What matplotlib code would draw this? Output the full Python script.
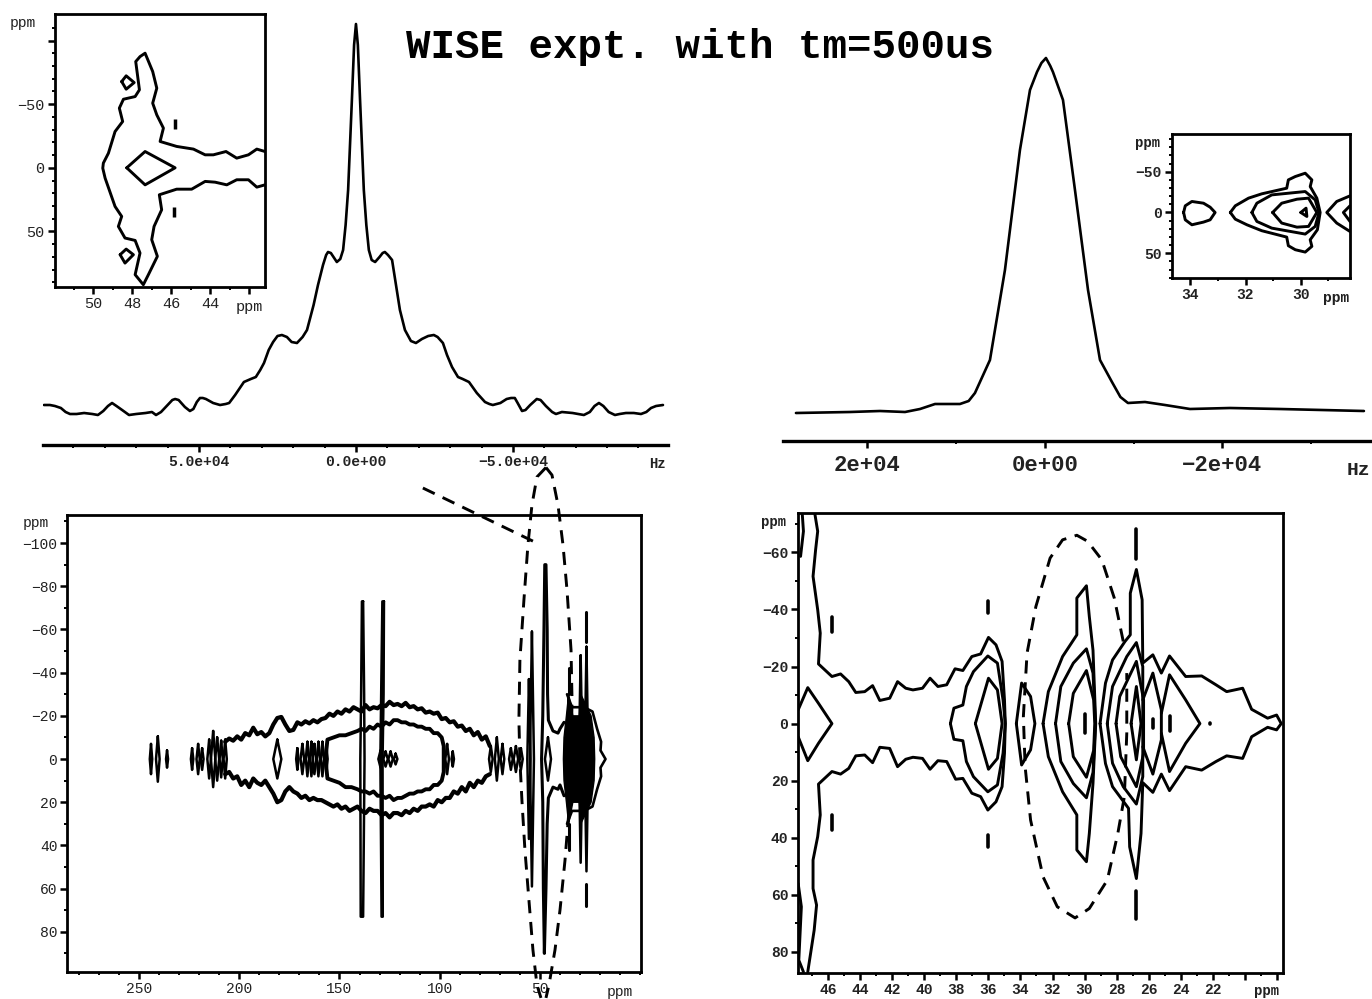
import matplotlib
matplotlib.use('Agg')
import matplotlib.pyplot as plt

W, H = 1372, 999
MONO = 'Liberation Mono'

# top spectra: kHz and intensity (height above axis)
left_khz = [99.4, 97.5, 95.9, 94, 92.5, 91.1, 89, 86.6, 84, 82.2, 80.5, 79, 77.7, 76.3, 74.5, 72.3, 70, 67, 65, 63.7, 62.1,
            60, 58.5, 57.6, 56.5, 54.5, 52.9, 51.8, 50.7, 49.7, 48.8, 47.8, 45.5, 43.3, 41.5, 40.4, 38.5, 35.7, 33.5, 31.9,
            30.5, 29.3, 27.8, 26.4, 25, 23.6, 22, 20.5, 18.8, 17, 15.6, 13.5, 12.1, 10.5, 9.5, 8.9, 8, 6.1, 5, 4.1, 3.3, 2.5,
            1.3, 0.6, 0, -0.6, -1.3, -2.5, -3.3, -4.1, -5, -6.1, -7.5, -8.5, -9.2, -10.2, -11.5, -13, -14, -15.6, -17.5,
            -19.1, -21, -23, -24.8, -26, -27.7, -29, -30.6, -32.5, -34, -36, -38.5, -41.1, -42.5, -43.6, -46, -48, -49.4,
            -50.6, -51.5, -52.9, -54, -55.5, -57.6, -58.8, -60.5, -62.5, -63.7, -65.6, -69, -72.6, -74.5, -76, -77.4, -78.8,
            -80.5, -82.5, -84, -86, -88.5, -90.8, -92.5, -94, -95.6, -97.8]
left_int = [40, 40, 39, 37, 33, 31, 31, 32, 31, 30, 34, 39, 42, 39, 35, 30, 31, 32, 33, 30, 33,
            40, 45, 46, 45, 38, 34, 36, 43, 47, 47, 46, 42, 40, 41, 42, 50, 63, 66, 68,
            75, 82, 95, 103, 109, 110, 108, 103, 102, 108, 115, 140, 160, 180, 190, 193, 192, 183, 186, 195, 220, 255,
            345, 400, 421, 400, 345, 255, 220, 195, 185, 183, 188, 192, 193, 190, 185, 155, 135, 115, 104,
            102, 106, 109, 110, 108, 102, 90, 78, 68, 66, 63, 52, 43, 41, 40, 42, 46, 47,
            47, 42, 34, 35, 40, 46, 45, 39, 33, 31, 33, 32, 30, 33, 39, 42, 39,
            33, 30, 31, 32, 32, 31, 33, 37, 39, 40]

right_khz = [28.06, 21.97, 18.59, 15.77, 14.08, 12.39, 9.58, 8.6, 7.89, 6.20, 4.51, 2.82, 1.69, 0.90, 0.4, -0.11, -0.6, -0.90,
             -2.03, -3.38, -4.85, -6.20, -7.55, -8.5, -9.35, -11.27, -13.52, -16.34, -20.85, -26.48, -35.94]
right_int = [28, 29, 30, 29, 32, 37, 37, 40, 48, 81, 171, 291, 351, 369, 378, 383, 375, 369,
             341, 251, 151, 81, 59, 44, 38, 39, 36, 32, 33, 32, 30]

# inset top left
a_outer_x = [41.20, 41.62, 42.05, 42.65, 43.20, 43.85, 44.27, 44.87, 45.73, 46.58, 46.41, 46.75, 46.96, 46.75, 46.96,
             47.35, 47.61, 47.83, 47.74, 47.64, 47.86, 48.46, 48.67, 48.50, 48.89, 49.23, 49.49, 49.52,
             49.40, 48.89, 48.55, 48.72, 48.38, 47.86, 47.61, 47.86, 47.44, 47.18, 46.72, 47.01, 46.89, 46.50, 46.62,
             45.73, 44.96, 44.27, 43.76, 43.16, 42.65, 42.05, 41.62, 41.20]
a_outer_y = [-12.8, -14.7, -10.2, -7.6, -12.8, -10.2, -10.2, -14.7, -16.8, -20.7, -31.2, -41.6, -50.8, -62.6, -75.7,
             -90.1, -87.4, -83.5, -73.0, -61.3, -56.0, -53.9, -46.9, -36.4, -28.5, -11.5, -3.7, 0.3,
             8.1, 30.4, 38.2, 46.1, 55.2, 57.1, 67.0, 84.0, 91.9, 84.0, 69.6, 56.5, 46.1, 33.0, 21.2,
             16.8, 16.8, 10.7, 11.3, 13.4, 9.4, 9.4, 15.2, 13.4]
a_diamond_x = [48.29, 47.35, 45.81, 47.35, 48.29]
a_diamond_y = [0, -12.8, 0, 13.4, 0]
a_up_x = [48.55, 48.32, 47.91, 48.32, 48.55]
a_up_y = [-67.8, -72.3, -67.0, -61.8, -67.8]
a_low_x = [48.63, 48.32, 47.95, 48.38, 48.63]
a_low_y = [68.3, 63.9, 68.3, 74.9, 68.3]
a_speck_x = [45.81, 45.86]
a_speck_y = [-34.6, 35.1]

# inset top right
e_lens_x = [34.24, 34.18, 33.94, 33.52, 33.28, 33.10, 33.28, 33.52, 33.94, 34.18, 34.24]
e_lens_y = [0, -8.2, -13.5, -11.4, -6.5, 0, 9.0, 11.8, 15.1, 9.0, 0]
e_outer_x = [32.55, 32.37, 31.89, 31.41, 30.51, 30.45, 30.20, 29.84, 29.60, 29.66, 29.42, 29.30, 29.40, 29.66, 29.60,
             29.84, 30.20, 30.45, 30.51, 31.41, 31.95, 32.37, 32.55]
e_outer_y = [0, -8.2, -17.6, -22.9, -29.8, -40.0, -44.1, -48.2, -40.0, -31.8, -17.6, 0, 21.2, 33.5, 41.6,
             48.6, 45.7, 40.8, 30.2, 22.4, 15.1, 8.2, 0]
e_mid_x = [31.77, 31.59, 31.05, 29.84, 29.48, 29.34, 29.48, 29.84, 31.05, 31.59, 31.77]
e_mid_y = [0, -11.4, -21.6, -25.7, -15.5, 0, 17.1, 26.5, 19.2, 11.0, 0]
e_in_x = [31.02, 30.69, 30.14, 29.72, 29.42, 29.72, 30.14, 30.69, 31.02]
e_in_y = [0, -11.4, -16.3, -17.6, 0, 17.1, 18.0, 13.0, 0]
e_tri_x = [30.00, 29.81, 29.78, 30.00]
e_tri_y = [0, -5.3, 4.9, 0]
e_r1_x = [28.22, 28.70, 29.06, 28.70, 28.22]
e_r1_y = [-20.4, -13.5, 0, 13.0, 23.3]
e_r2_x = [28.22, 28.46, 28.22]
e_r2_y = [-8.2, 0, 11.0]

# bottom left, full spectrum
c_outer_up_x = [207, 205, 203, 201, 199, 197, 195, 193, 191, 189, 187, 185, 183, 181, 179, 177, 175, 173, 171, 169, 167,
                165, 163, 161, 159, 157, 155, 153, 151, 149, 147, 145, 143, 141, 139, 137, 135, 133, 131, 129, 127, 125,
                123, 121, 119, 117, 115, 113, 111, 109, 107, 105, 103, 101, 99, 97, 95, 93, 91, 89, 87, 85, 83, 81, 79,
                77, 75]
c_outer_up_y = [-8, -9.5, -8.5, -10.5, -9, -12, -11, -14.5, -11.5, -12.5, -10.5, -12, -16, -19, -19.5, -16, -13, -13.5,
                -17, -16, -17.5, -16.5, -18, -17, -18.5, -19, -21, -20, -22, -21, -23, -22, -24, -23, -22, -25, -23, -24,
                -23.5, -25, -24.5, -26.5, -25, -25.5, -24.5, -26, -24, -24.5, -23, -23.5, -21.5, -22, -21, -21.5, -18.5,
                -19, -17, -17.5, -15, -15.5, -13, -14, -11, -12.5, -9, -10.5, -6]
c_outer_low_x = [207, 205, 203, 201, 199, 197, 195, 193, 191, 189, 187, 185, 183, 181, 179, 177, 175, 173, 171, 169, 167,
                 165, 163, 161, 159, 157, 155, 153, 151, 149, 147, 145, 143, 141, 139, 137, 135, 133, 131, 129, 127, 125,
                 123, 121, 119, 117, 115, 113, 111, 109, 107, 105, 103, 101, 99, 97, 95, 93, 91, 89, 87, 85, 83, 81, 79,
                 77, 75]
c_outer_low_y = [7, 6, 9, 8, 12, 10, 13, 9, 11, 12, 10, 13, 16, 20, 19, 15, 13, 15, 16, 18, 17, 19, 18, 19, 19, 20, 21,
                 22, 21, 23, 22, 24, 23, 22, 24, 25, 23, 24, 24, 26, 25, 27, 25, 25, 26, 24, 25, 23, 24, 22, 22, 21, 22,
                 19, 20, 18, 18, 15, 16, 13, 15, 11, 13, 10, 11, 8, 7]
c_inner_x = [157, 156, 153, 150, 147, 144, 141, 139, 137, 135, 133, 131, 129, 127, 125, 123, 121, 119, 117, 115, 113, 111,
             109, 107, 105, 103, 101, 99, 98, 98, 99, 101, 103, 105, 107, 109, 111, 113, 115, 117, 119, 121, 123, 125,
             127, 129, 131, 133, 135, 137, 139, 141, 144, 147, 150, 153, 156, 157]
c_inner_y = [0, -9, -10, -11, -11, -12, -13, -14, -13, -15, -14, -16, -15, -17, -16, -18, -18, -17, -17, -16, -16, -15,
             -15, -14, -14, -12, -12, -10, -6, 6, 10, 12, 12, 14, 14, 15, 15, 16, 16, 17, 18, 18, 19, 17, 18, 17, 17, 15, 16,
             15, 15, 14, 13, 13, 11, 10, 9, 0]
c_col1_x = [138.2, 137.7, 137.5, 138.2, 139.4, 139.6, 139.2, 138.8, 138.2]
c_col1_y = [-73, -30, 0, 73, 73, 0, -30, -73, -73]
c_col2_x = [127.8, 128.0, 128.5, 128.4, 129.0, 129.6, 129.2, 128.6, 127.8]
c_col2_y = [-73, -30, 0, 73, 73, 0, -30, -73, -73]
c_t_x = [47.0, 46.4, 46.2, 45.8, 43.5, 41.0, 40.0, 38.0]
c_t_y = [-90, -60, -30, -18, -13, -12, -14, -17]
c_t2_x = [47.6, 48.0, 48.6, 49.2, 48.6, 48.3, 47.8, 47.0, 46.4, 45.8, 43.5, 41.0, 40.0, 38.0]
c_t2_y = [-90, -60, -20, 0, 20, 60, 90, 60, 30, 18, 13, 14, 12, 17]
c_blob_x = [38.3, 38.0, 36.8, 35.7, 33.6, 30.3, 29.7, 27.0, 24.5, 23.0, 22.7, 23.0, 24.5, 27.0, 29.7, 30.3, 33.6, 35.7, 36.8, 38.0, 38.3]
c_blob_y = [0, -10, -20, -30, -20, -20, -30, -25, -20, -10, 0, 10, 20, 25, 30, 20, 20, 30, 20, 10, 0]
c_tail_x = [36.5, 34.0, 28.0, 23.8, 21.5, 19.5, 19.8, 17.3, 19.8, 19.5, 21.5, 23.8, 28.0, 34.0, 36.5]
c_tail_y = [-30, -24, -24, -22, -14, -8, -4, 0, 4, 8, 14, 22, 24, 24, 30]
lens_ppm = [244, 240.6, 236, 223.5, 220.5, 218.5, 215, 213, 211, 209, 207, 181, 171, 168.5, 166, 164, 162.5, 160.5, 158.5,
            156.5, 129.5, 127, 124.5, 122, 96.3, 93.5, 74.5, 71.5, 68.7, 64.5, 62, 59.5, 54, 55.5, 46, 35.7, 29.7, 26.8]
lens_half = [7, 10.5, 4, 5, 7, 5, 9, 13, 10, 8.5, 9, 9, 5, 7, 8, 8, 7, 8, 8, 6, 4, 3.5, 3.5, 2.5, 7, 3.5, 6, 10, 7, 5, 6, 5,
             59, 37, 10, 28, 48, 52]
lens_wide = [0.6, 0.9, 0.5, 0.6, 0.8, 0.7, 0.9, 1.1, 1.0, 0.8, 0.8, 2, 0.6, 0.9, 0.8, 0.8, 0.9, 0.8, 0.8, 0.6, 1.1, 1.1, 1.1,
             0.9, 0.9, 0.6, 0.9, 1.0, 0.9, 0.9, 1.1, 0.9, 1.0, 0.8, 1.5, 1.0, 0.9, 0.9]
dash_ppm = [35.7, 35.7, 26.8, 26.8]
dash_lo = [-42, 30, -68, 58]
dash_hi = [-30, 42, -54, 68]

c_ell_x = [47.0, 51.5, 54, 56, 58, 60, 60.5, 60, 59, 57.5, 55.5, 53.5, 51.5, 49.5]
c_ell_y = [-135, -130.6, -117.6, -99.1, -73.6, -45.8, -18, 0.5, 19, 42, 65.3, 88.4, 104.6, 110.6]
c_ell2_x = [47.0, 44, 41, 38.5, 36.5, 34.5, 34, 34.5, 35.5, 37.5, 40, 42.5, 45.5, 47.0]
c_ell2_y = [-135, -131.5, -117.6, -99.1, -78.2, -50.5, -27.3, 0.5, 23.6, 46.8, 69.9, 88.4, 104.6, 110.6]
c_lead_x = [108.4, 53.5]
c_lead_y = [-125.5, -100.9]

# bottom right, expansion
d_t_x = [46.85, 46.67, 46.80, 46.96, 46.67, 46.51, 46.62, 45.78, 45.24, 44.73, 44.29, 43.73, 43.24, 42.79, 42.17, 41.68,
         41.17, 40.72, 40.12, 39.65, 39.16, 38.61, 38.09, 37.60, 37.04, 36.49, 36.00, 35.53, 35.15, 35.00, 34.95, 35.00,
         35.15, 35.53, 36.04, 36.49, 37.04, 37.60, 38.05, 38.61, 39.16, 39.65, 40.12, 40.72, 41.17, 41.68, 42.17, 42.79,
         43.24, 43.73, 44.29, 44.73, 45.24, 45.78, 46.62, 46.51, 46.67, 46.96, 46.96, 46.74, 46.89, 47.29]
d_t_y = [-73.6, -67.4, -60.9, -51.6, -39.9, -31.7, -20.9, -16.5, -17.4, -14.7, -10.9, -11.2, -13.3, -8.1, -8.9, -14.7,
         -12.4, -11.8, -12.4, -15.9, -13.0, -13.6, -19.2, -18.6, -23.5, -24.4, -30.2, -27.6, -21.8, -8.3, 0, 10.4,
         22.1, 27.4, 30.3, 25.6, 24.4, 19.2, 19.5, 13.3, 13.0, 16.0, 12.2, 11.8, 12.5, 15.1, 8.7, 8.3,
         13.7, 11.0, 11.3, 15.7, 17.7, 16.8, 21.2, 32.0, 39.6, 47.8, 57.8, 63.6, 72.4, 87.0]
d_36b_x = [38.38, 38.16, 37.60, 37.38, 36.94, 36.04, 35.44, 35.09, 34.95, 35.09, 35.44, 36.04, 36.94, 37.38, 37.60, 38.16, 38.38]
d_36b_y = [0, -5.4, -6.5, -13.0, -18.2, -23.7, -21.2, -8.3, 0, 10.4, 21.5, 23.9, 18.6, 13.3, 6.0, 5.5, 0]
d_36c_x = [36.82, 36.00, 35.44, 35.15, 35.44, 36.00, 36.82]
d_36c_y = [0, -15.9, -11.8, 0, 12.2, 16.0, 0]
d_dia_x = [47.89, 47.29, 46.62, 45.78, 46.62, 47.29, 47.89]
d_dia_y = [-4.8, -12.6, -7.1, 0, 6.9, 13.0, 4.6]
d_edge1_x = [47.63, 47.56, 47.74]
d_edge1_y = [-73.2, -67.4, -58.6]
d_edge2_x = [47.89, 47.69, 47.85, 47.56]
d_edge2_y = [56.0, 64.2, 82.9, 87.0]
d_34_x = [34.26, 33.93, 33.37, 33.10, 33.37, 33.93, 34.26]
d_34_y = [0, -14.2, -9.5, 0, 9.2, 14.5, 0]
d_30a_x = [32.59, 32.26, 31.37, 30.48, 30.48, 29.88, 29.70, 29.47, 29.30, 29.47, 29.70, 29.88, 30.48, 30.48, 31.37, 32.26, 32.59]
d_30a_y = [0, -11.2, -23.5, -31.1, -44.0, -48.3, -37.5, -25.7, 0, 20.9, 38.5, 48.4, 44.3, 32.0, 23.9, 11.6, 0]
d_30b_x = [31.81, 31.48, 30.70, 29.88, 29.47, 29.32, 29.47, 29.88, 30.70, 31.48, 31.81]
d_30b_y = [0, -13.0, -21.2, -26.2, -17.7, 0, 17.1, 26.0, 21.0, 13.3, 0]
d_30c_x = [30.99, 30.70, 29.88, 29.43, 29.36, 29.43, 29.88, 30.70, 30.99]
d_30c_y = [0, -10.6, -18.6, -8.3, 0, 9.4, 18.8, 11.6, 0]
d_267a_x = [29.03, 28.69, 28.25, 27.47, 27.14, 27.14, 26.76, 26.40, 26.36, 25.73, 25.20, 24.69, 23.68, 22.68, 21.79, 21.12,
            20.12, 19.56, 18.56, 18.00, 17.71, 18.00, 18.56, 19.56, 20.12, 21.12, 21.79, 22.68, 23.68, 24.69, 25.20, 25.73,
            26.36, 26.47, 26.76, 27.18, 27.25, 28.25, 28.69, 29.03]
d_267a_y = [0, -14.2, -22.3, -28.8, -31.1, -45.7, -54.0, -43.4, -21.2, -24.1, -17.7, -23.7, -16.5, -16.7, -13.6, -11.2,
            -12.4, -5.0, -1.9, -3.0, 0, 2.2, 1.3, 4.6, 12.2, 11.3, 13.3, 16.3, 15.1, 23.5, 17.7, 24.1,
            20.7, 38.5, 54.3, 43.2, 29.7, 22.1, 14.0, 0]
d_267b_x = [28.58, 28.25, 27.36, 26.76, 26.36, 26.36, 26.36, 26.76, 27.58, 28.25, 28.58]
d_267b_y = [0, -13.0, -23.5, -28.4, -20.0, 0, 18.6, 28.2, 22.1, 13.9, 0]
d_267c_x = [28.03, 27.80, 26.76, 26.31, 26.31, 26.31, 26.76, 27.74, 28.03]
d_267c_y = [0, -9.5, -21.8, -8.3, 0, 10.4, 22.1, 11.6, 0]
d_267d_x = [27.09, 26.76, 26.47, 26.76, 27.09]
d_267d_y = [0, -13.0, 0, 12.7, 0]
d_257_x = [26.36, 25.73, 25.20, 25.20, 25.20, 25.73, 26.36]
d_257_y = [-8.3, -17.7, -4.8, 0, 5.7, 17.7, 8.1]
d_247_x = [25.20, 24.69, 23.68, 22.79, 23.68, 24.69, 25.20]
d_247_y = [-3.6, -17.1, -8.3, 0, 6.9, 16.8, 3.4]
d_lens_ppm = [45.78, 45.78, 36.0, 36.0, 26.76, 26.76, 29.96, 25.73, 24.69, 22.17]
d_lens_mid = [-34.6, 34.6, -40.8, 41.1, -63.0, 63.5, 0, 0, 0, 0]
d_lens_half = [2.6, 2.6, 2.2, 2.2, 5.2, 5.0, 3.2, 1.7, 2.6, 0.2]
d_ell_x = [27.58, 28.14, 28.92, 29.81, 30.48, 31.37, 32.15, 33.04, 33.59, 33.82, 33.71, 33.37, 32.59, 31.70, 30.59, 29.70,
           28.58, 27.92, 27.51, 27.36, 27.36]
d_ell_y = [-28.8, -44.0, -57.4, -63.9, -66.0, -64.4, -58.0, -41.0, -24.7, -2.5, 15.1, 33.8, 53.7, 64.2, 68.1, 64.8,
           54.9, 38.5, 25.6, 3.4, -17.7]


def panel(l, t, r, b):
    return fig.add_axes([l / W, 1 - b / H, (r - l) / W, (b - t) / H])


def trace(ax, x, y, lw=2.1):
    ax.plot(x, y, color='black', lw=lw, solid_joinstyle='round', solid_capstyle='round')


def ticks(ax, size, weight, xmaj, xlab, xmin, ymaj=None, ylab=None, ymin=None, pad=2.5):
    ax.set_xticks(xmaj)
    ax.set_xticklabels(xlab, fontfamily=MONO, fontsize=size, fontweight=weight, color='#222222')
    ax.set_xticks(xmin, minor=True)
    ax.tick_params(axis='both', which='major', length=5, width=1.8, pad=pad)
    ax.tick_params(axis='both', which='minor', length=2.5, width=1.4)
    if ymaj is not None:
        ax.set_yticks(ymaj)
        ax.set_yticklabels(ylab, fontfamily=MONO, fontsize=size, fontweight=weight, color='#222222')
        ax.set_yticks(ymin, minor=True)
    for s in ax.spines.values():
        s.set_linewidth(2)


def corner(ax, txt, x, y, size, weight='normal'):
    ax.text(x, y, txt, transform=ax.transAxes, fontfamily=MONO, fontsize=size, fontweight=weight,
            color='#222222', ha='center', va='center', clip_on=False)


fig = plt.figure(figsize=(W / 100, H / 100), dpi=100)
fig.text(700 / W, 1 - 47 / H, 'WISE expt. with tm=500us', fontfamily=MONO, fontsize=29.3, fontweight='bold',
         ha='center', va='center')

# top left spectrum
ax = panel(43, 15, 668, 445)
trace(ax, left_khz, left_int, 1.9)
ax.set_xlim(99.7, -99.4)
ax.set_ylim(0, 430)
ticks(ax, 10.5, 'bold', [50, 0, -50], ['5.0e+04', '0.0e+00', '\u22125.0e+04'], list(range(-90, 100, 10)))
ax.set_yticks([])
for s in ['top', 'left', 'right']:
    ax.spines[s].set_visible(False)
ax.spines['bottom'].set_linewidth(2.4)
corner(ax, 'Hz', 0.983, -0.045, 10, 'bold')
ax.patch.set_alpha(0)

# top right spectrum
ax = panel(783, 15, 1372, 441)
trace(ax, right_khz, right_int, 1.9)
ax.set_xlim(29.52, -36.85)
ax.set_ylim(0, 426)
ticks(ax, 16, 'bold', [20, 0, -20], ['2e+04', '0e+00', '\u22122e+04'], [-30, -10, 10], pad=5)
ax.set_yticks([])
for s in ['top', 'left', 'right']:
    ax.spines[s].set_visible(False)
ax.spines['bottom'].set_linewidth(2.4)
corner(ax, 'Hz', 0.977, -0.07, 14, 'bold')
ax.patch.set_alpha(0)

# inset left
ax = panel(55, 14, 265, 287)
trace(ax, a_outer_x, a_outer_y)
trace(ax, a_diamond_x, a_diamond_y)
trace(ax, a_up_x, a_up_y)
trace(ax, a_low_x, a_low_y)
ax.plot(a_speck_x, a_speck_y, ls='none', marker='|', ms=7, mew=2.5, color='black')
ax.set_xlim(51.97, 41.2)
ax.set_ylim(93.7, -120.9)
ticks(ax, 11, 'normal', [50, 48, 46, 44, 42], ['50', '48', '46', '44', ''], [51, 49, 47, 45, 43],
      [-100, -50, 0, 50], ['', '\u221250', '0', '50'], list(range(-110, 100, 10)))
corner(ax, 'ppm', 0.924, -0.073, 11)
corner(ax, 'ppm', -0.152, 0.967, 10.5)

# inset right
ax = panel(1172, 134, 1350, 278)
for x, y in [(e_lens_x, e_lens_y), (e_outer_x, e_outer_y), (e_mid_x, e_mid_y), (e_in_x, e_in_y),
             (e_tri_x, e_tri_y), (e_r1_x, e_r1_y), (e_r2_x, e_r2_y)]:
    trace(ax, x, y)
ax.set_xlim(34.66, 28.22)
ax.set_ylim(80.4, -96.3)
ticks(ax, 10.5, 'bold', [34, 32, 30], ['34', '32', '30'], [33, 31, 29],
      [-50, 0, 50], ['\u221250', '0', '50'], list(range(-90, 90, 10)))
corner(ax, 'ppm', 0.92, -0.14, 10.5, 'bold')
corner(ax, 'ppm', -0.14, 0.94, 10, 'bold')

# full spectrum
ax = panel(67, 515, 641, 972)
trace(ax, c_outer_up_x, c_outer_up_y, 3)
trace(ax, c_outer_low_x, c_outer_low_y, 3)
trace(ax, c_inner_x, c_inner_y, 2.8)
trace(ax, c_col1_x, c_col1_y, 1.8)
trace(ax, c_col2_x, c_col2_y, 1.8)
trace(ax, c_t_x, c_t_y, 2.2)
trace(ax, c_t2_x, c_t2_y, 2.2)
trace(ax, c_tail_x, c_tail_y, 1.9)
ax.fill(c_blob_x, c_blob_y, color='black', lw=1)
for p, h, w in zip(lens_ppm, lens_half, lens_wide):
    trace(ax, [p, p - w, p, p + w, p], [-h, 0, h, 0, -h], 1.8)
for p, lo, hi in zip(dash_ppm, dash_lo, dash_hi):
    trace(ax, [p, p], [lo, hi], 2.2)
ax.plot(c_ell_x, c_ell_y, color='black', lw=2.1, ls=(0, (4.5, 3)), clip_on=False)
ax.plot(c_ell2_x, c_ell2_y, color='black', lw=2.1, ls=(0, (4.5, 3)), clip_on=False)
ax.plot(c_lead_x, c_lead_y, color='black', lw=2.1, ls=(0, (4.5, 3)), clip_on=False)
ax.set_xlim(285.9, -0.4)
ax.set_ylim(98.6, -113)
ticks(ax, 10.5, 'normal', [250, 200, 150, 100, 50], ['250', '200', '150', '100', '50'], list(range(0, 290, 10)),
      list(range(-100, 100, 20)), ['\u2212100', '\u221280', '\u221260', '\u221240', '\u221220', '0', '20', '40', '60', '80'],
      list(range(-110, 100, 10)), pad=2)
corner(ax, 'ppm', 0.963, -0.044, 10.5)
corner(ax, 'ppm', -0.055, 0.983, 10.5)

# expansion
ax = panel(798, 513, 1283, 973)
for x, y in [(d_t_x, d_t_y), (d_36b_x, d_36b_y), (d_36c_x, d_36c_y), (d_dia_x, d_dia_y), (d_edge1_x, d_edge1_y),
             (d_edge2_x, d_edge2_y), (d_34_x, d_34_y), (d_30a_x, d_30a_y), (d_30b_x, d_30b_y), (d_30c_x, d_30c_y),
             (d_267a_x, d_267a_y), (d_267b_x, d_267b_y), (d_267c_x, d_267c_y), (d_267d_x, d_267d_y),
             (d_257_x, d_257_y), (d_247_x, d_247_y)]:
    trace(ax, x, y)
for p, m, h in zip(d_lens_ppm, d_lens_mid, d_lens_half):
    trace(ax, [p, p], [m - h, m + h], 2.6)
ax.plot(d_ell_x, d_ell_y, color='black', lw=2.1, ls=(0, (4.5, 3)))
ax.set_xlim(47.9, 17.6)
ax.set_ylim(87.4, -73.8)
ticks(ax, 10.5, 'bold', list(range(46, 16, -2)), ['46', '44', '42', '40', '38', '36', '34', '32', '30', '28', '26', '24', '22', '', ''],
      list(range(47, 17, -2)), list(range(-60, 100, 20)),
      ['\u221260', '\u221240', '\u221220', '0', '20', '40', '60', '80'], list(range(-70, 90, 10)), pad=2)
corner(ax, 'ppm', 0.967, -0.04, 10, 'bold')
corner(ax, 'ppm', -0.05, 0.98, 10, 'bold')

fig.savefig('out.png', dpi=100)
